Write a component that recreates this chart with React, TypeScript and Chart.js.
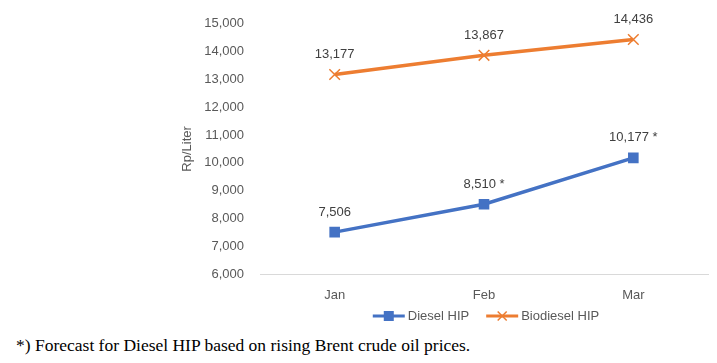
import React, { useEffect, useRef } from "react";
import { Chart, registerables } from "chart.js";

Chart.register(...registerables);

const categories = ["Jan", "Feb", "Mar"];
const dieselValues = [7506, 8510, 10177];
const biodieselValues = [13177, 13867, 14436];
const dieselLabels = ["7,506", "8,510 *", "10,177 *"];
const biodieselLabels = ["13,177", "13,867", "14,436"];
const seriesNames = ["Diesel HIP", "Biodiesel HIP"];
const yTitle = "Rp/Liter";
const footnote = "*) Forecast for Diesel HIP based on rising Brent crude oil prices.";

const BLUE = "#4472C4";
const ORANGE = "#ED7D31";
const FONT = "'Liberation Sans', Arial, sans-serif";

const labelPlugin = {
  id: "pointLabels",
  afterDatasetsDraw(chart: any) {
    const ctx = chart.ctx;
    const labelSets = [dieselLabels, biodieselLabels];
    ctx.save();
    ctx.font = `13px ${FONT}`;
    ctx.fillStyle = "#404040";
    ctx.textAlign = "center";
    ctx.textBaseline = "middle";
    chart.data.datasets.forEach((_: any, di: number) => {
      const meta = chart.getDatasetMeta(di);
      meta.data.forEach((pt: any, i: number) => {
        ctx.fillText(labelSets[di][i], pt.x, pt.y - 20);
      });
    });
    ctx.restore();
  },
};

const legendPlugin = {
  id: "customLegend",
  afterDraw(chart: any) {
    const ctx = chart.ctx;
    const area = chart.chartArea;
    ctx.save();
    ctx.font = `13px ${FONT}`;
    const lineLen = 32;
    const textGap = 3;
    const itemGap = 17;
    const widths = seriesNames.map((n) => lineLen + textGap + ctx.measureText(n).width);
    const total = widths[0] + widths[1] + itemGap;
    let x = (area.left + area.right) / 2 + 2 - total / 2;
    const y = 316;
    const colors = [BLUE, ORANGE];
    seriesNames.forEach((name, i) => {
      ctx.strokeStyle = colors[i];
      ctx.lineWidth = 3;
      ctx.beginPath();
      ctx.moveTo(x, y);
      ctx.lineTo(x + lineLen, y);
      ctx.stroke();
      const cx = x + lineLen / 2;
      if (i === 0) {
        ctx.fillStyle = BLUE;
        ctx.fillRect(cx - 5, y - 5, 10, 10);
      } else {
        ctx.lineWidth = 1.5;
        ctx.beginPath();
        ctx.moveTo(cx - 4.5, y - 4.5);
        ctx.lineTo(cx + 4.5, y + 4.5);
        ctx.moveTo(cx + 4.5, y - 4.5);
        ctx.lineTo(cx - 4.5, y + 4.5);
        ctx.stroke();
      }
      ctx.fillStyle = "#595959";
      ctx.textAlign = "left";
      ctx.textBaseline = "middle";
      ctx.fillText(name, x + lineLen + textGap, y);
      x += widths[i] + itemGap;
    });
    ctx.restore();
  },
};

export default function App() {
  const ref = useRef<HTMLCanvasElement | null>(null);

  useEffect(() => {
    document.body.style.margin = "0";
    if (!ref.current) return;
    const chart = new Chart(ref.current, {
      type: "line",
      data: {
        labels: categories,
        datasets: [
          {
            label: seriesNames[0],
            data: dieselValues,
            borderColor: BLUE,
            backgroundColor: BLUE,
            borderWidth: 3.5,
            pointStyle: "rect",
            pointRadius: 7.5,
            pointBorderWidth: 0,
            tension: 0,
          },
          {
            label: seriesNames[1],
            data: biodieselValues,
            borderColor: ORANGE,
            backgroundColor: ORANGE,
            borderWidth: 3.5,
            pointStyle: "crossRot",
            pointRadius: 7.5,
            pointBorderWidth: 1.5,
            tension: 0,
          },
        ],
      },
      options: {
        responsive: false,
        animation: false,
        layout: { padding: { left: 180, right: 7, top: 22, bottom: 0 } },
        plugins: {
          legend: { display: false },
          tooltip: { enabled: false },
        },
        scales: {
          x: {
            offset: true,
            grid: { display: false, drawTicks: false },
            border: { display: true, color: "#D9D9D9", width: 1 },
            ticks: { color: "#595959", font: { family: FONT, size: 13 }, padding: 14 },
            afterFit: (s: any) => {
              s.height = 56;
            },
          },
          y: {
            min: 6000,
            max: 15000,
            grid: { display: false, drawTicks: false },
            border: { display: false },
            ticks: {
              stepSize: 1000,
              color: "#595959",
              font: { family: FONT, size: 13 },
              padding: 16,
              callback: (v: any) => Number(v).toLocaleString("en-US"),
            },
            title: {
              display: true,
              text: yTitle,
              color: "#595959",
              font: { family: FONT, size: 13 },
              padding: 0,
            },
            afterFit: (s: any) => {
              s.width = 80;
            },
          },
        },
      },
      plugins: [labelPlugin, legendPlugin],
    });
    return () => chart.destroy();
  }, []);

  return (
    <div style={{ position: "relative", width: 717, height: 363, background: "#fff" }}>
      <canvas ref={ref} width={717} height={330} style={{ display: "block" }} />
      <div
        style={{
          position: "absolute",
          left: 16,
          top: 335,
          fontFamily: "'Liberation Serif', serif",
          fontSize: 17.5,
          lineHeight: "20px",
          color: "#000",
          whiteSpace: "nowrap",
        }}
      >
        {footnote}
      </div>
    </div>
  );
}
